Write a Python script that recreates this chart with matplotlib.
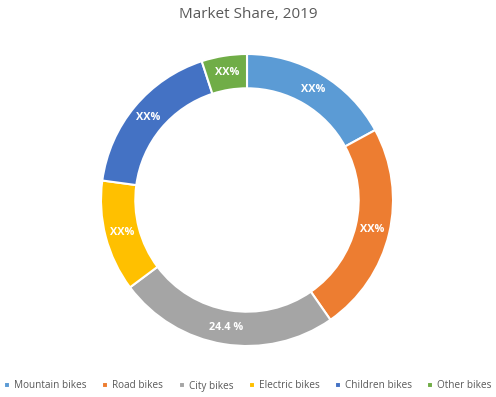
import matplotlib
matplotlib.use("Agg")
import matplotlib.pyplot as plt
import numpy as np

categories = ["Mountain bikes", "Road bikes", "City bikes", "Electric bikes", "Children bikes", "Other bikes"]
values = [17.0, 23.2, 24.4, 12.3, 17.8, 5.0]
labels = ["XX%", "XX%", "24.4 %", "XX%", "XX%", "XX%"]
colors = ["#5B9BD5", "#ED7D31", "#A5A5A5", "#FFC000", "#4472C4", "#70AD47"]

plt.rcParams['font.family'] = ['Open Sans', 'DejaVu Sans']

fig = plt.figure(figsize=(4.96, 3.97), dpi=100)
R = 146
cx, cy = 247, 200
ax = fig.add_axes([(cx - R) / 496, (397 - cy - R) / 397, 2 * R / 496, 2 * R / 397])
width = 0.235
wedges, _ = ax.pie(values, colors=colors, startangle=90, counterclock=False,
                   radius=1.0, wedgeprops=dict(width=width, edgecolor="white", linewidth=1.5))
total = sum(values)
ang = 90.0
rmid = 1 - width / 2
for v, lab in zip(values, labels):
    theta = np.deg2rad(ang - v / total * 360 / 2)
    ax.text(rmid * np.cos(theta), rmid * np.sin(theta), lab, ha="center", va="center",
            color="white", fontsize=7.8, fontweight="bold")
    ang -= v / total * 360
ax.set_xlim(-1, 1)
ax.set_ylim(-1, 1)
ax.set_aspect("equal")
ax.axis("off")

fig.text(0.5, 1 - 14 / 397, "Market Share, 2019", ha="center", va="center",
         fontsize=11, color="#595959")

leg = fig.legend(wedges, categories, loc="center", bbox_to_anchor=(0.5, 1 - 386 / 397),
                 ncol=6, frameon=False, fontsize=7.2, handlelength=0.6, handleheight=0.6,
                 handletextpad=0.4, columnspacing=1.55, borderaxespad=0)
for t in leg.get_texts():
    t.set_color("#595959")

fig.savefig("out.png", dpi=100)
